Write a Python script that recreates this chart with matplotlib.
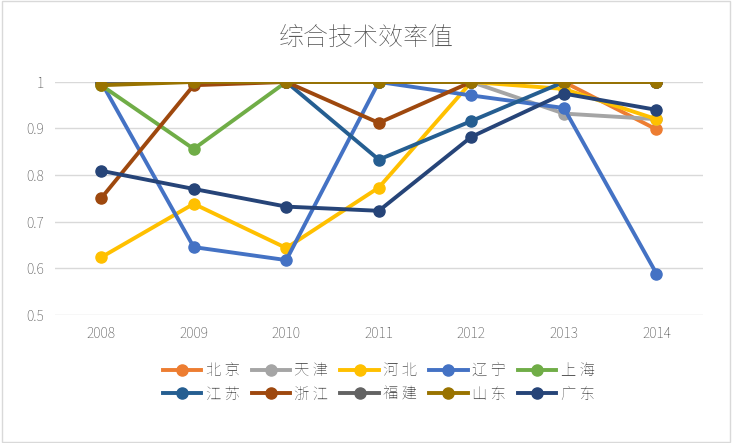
import matplotlib
matplotlib.use("Agg")
import matplotlib.pyplot as plt
from matplotlib import font_manager as fm

years = [2008, 2009, 2010, 2011, 2012, 2013, 2014]
names = ["北 京", "天 津", "河 北", "辽 宁", "上 海", "江 苏", "浙 江", "福 建", "山 东", "广 东"]
beijing = [1, 1, 1, 1, 1, 1, 0.898]
tianjin = [1, 1, 1, 1, 1, 0.932, 0.92]
hebei = [0.623, 0.738, 0.643, 0.773, 1, 0.985, 0.92]
liaoning = [1, 0.645, 0.617, 1, 0.971, 0.944, 0.588]
shanghai = [0.993, 0.856, 1, 1, 1, 1, 1]
jiangsu = [1, 1, 1, 0.833, 0.916, 1, 1]
zhejiang = [0.75, 0.993, 1, 0.912, 1, 1, 1]
fujian = [1, 1, 1, 1, 1, 1, 1]
shandong = [0.993, 1, 1, 1, 1, 1, 1]
guangdong = [0.809, 0.77, 0.732, 0.723, 0.882, 0.975, 0.94]
series = [beijing, tianjin, hebei, liaoning, shanghai, jiangsu, zhejiang, fujian, shandong, guangdong]
colors = ["#ED7D31", "#A5A5A5", "#FFC000", "#4472C4", "#70AD47",
          "#255E91", "#9E480E", "#636363", "#997300", "#264478"]

cjk = None
for f in fm.findSystemFonts():
    if "NotoSansCJK" in f.replace(" ", "") or "NotoSansSC" in f:
        try:
            fm.fontManager.addfont(f)
        except Exception:
            pass
        if cjk is None or "SC" in f:
            cjk = fm.FontProperties(fname=f).get_name()
fams = [cjk] if cjk else []
plt.rcParams["font.family"] = fams + ["Noto Sans CJK SC", "Noto Sans CJK JP", "DejaVu Sans"]

fig = plt.figure(figsize=(7.32, 4.43), dpi=100)
ax = fig.add_axes([0.075, 0.29, 0.885, 0.525])
handles = []
for s, n, c in zip(series, names, colors):
    h, = ax.plot(years, s, color=c, lw=2.8, marker="o", ms=8, label=n)
    handles.append(h)
ax.set_xlim(2007.5, 2014.5)
ax.set_ylim(0.5, 1.0)
ax.set_yticks([0.5, 0.6, 0.7, 0.8, 0.9, 1.0])
ax.set_yticklabels(["0.5", "0.6", "0.7", "0.8", "0.9", "1"])
ax.set_xticks(years)
ax.grid(axis="y", color="#D9D9D9", lw=1)
ax.tick_params(length=0, labelsize=10, colors="#595959", pad=8)
for sp in ax.spines.values():
    sp.set_visible(False)
ax.set_axisbelow(True)
fig.text(0.5, 0.915, "综合技术效率值", ha="center", va="center", fontsize=18, color="#595959")
order = [0, 5, 1, 6, 2, 7, 3, 8, 4, 9]
ax.legend([handles[i] for i in order], [names[i] for i in order],
          loc="upper center", bbox_to_anchor=(0.5, -0.15), ncol=5, frameon=False,
          fontsize=11, labelcolor="#595959", handlelength=2.5, columnspacing=0.8,
          handletextpad=0.3, labelspacing=0.5)
fig.patches.append(plt.Rectangle((0.003, 0.003), 0.994, 0.994, transform=fig.transFigure,
                                 fill=False, ec="#D9D9D9", lw=1))
fig.savefig("out.png", dpi=100)
